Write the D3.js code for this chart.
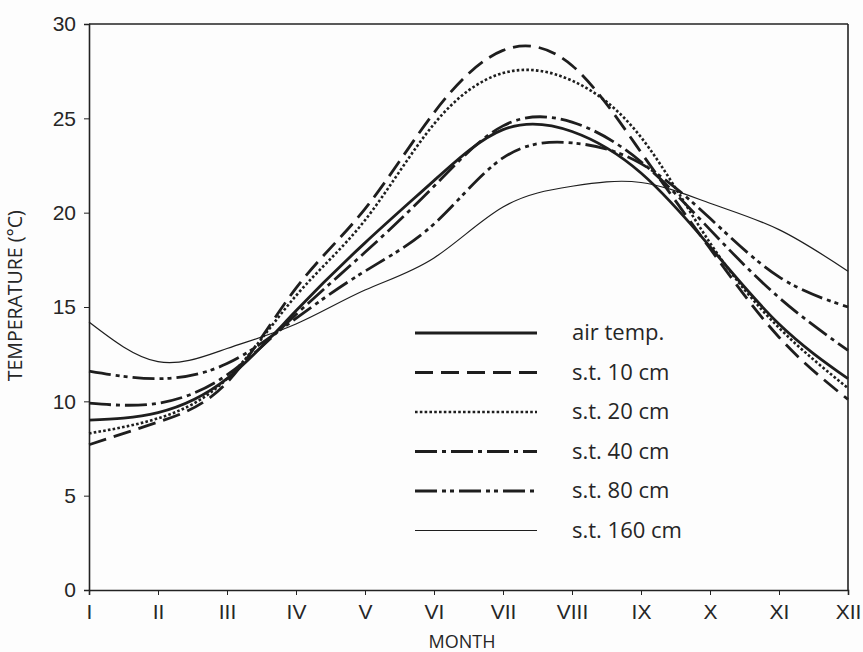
<!DOCTYPE html>
<html>
<head>
<meta charset="utf-8">
<script src="https://cdn.jsdelivr.net/npm/d3@7"></script>
<style>
  body { margin: 0; background: #fdfdfd; }
  svg { font-family: "Open Sans", "DejaVu Sans", sans-serif; }
  .tick text { font-size: 21px; fill: #262626; }
  .tick line, .domain { stroke: #222; }
</style>
</head>
<body>
<script>
//Data (°C at the start of each month)
var months = ["I", "II", "III", "IV", "V", "VI", "VII", "VIII", "IX", "X", "XI", "XII"];
var yTicks = [0, 5, 10, 15, 20, 25, 30];

var airTemp = [9.0, 9.4, 11.2, 14.8, 18.4, 21.7, 24.4, 24.3, 22.1, 18.2, 14.1, 11.2];
var st10 = [7.7, 8.9, 11.0, 16.0, 20.2, 25.3, 28.6, 27.8, 23.2, 18.1, 13.4, 10.1];
var st20 = [8.3, 9.1, 11.2, 15.6, 19.6, 24.7, 27.4, 27.0, 24.0, 18.4, 13.9, 10.7];
var st40 = [9.9, 9.9, 11.4, 14.6, 17.9, 21.4, 24.6, 24.8, 22.7, 19.1, 15.5, 12.7];
var st80 = [11.6, 11.2, 12.0, 14.4, 16.9, 19.4, 22.9, 23.7, 22.6, 19.7, 16.6, 15.0];
var st160 = [14.2, 12.1, 12.8, 14.1, 15.9, 17.6, 20.3, 21.4, 21.6, 20.5, 19.1, 16.9];

var seriesNames = ["air temp.", "s.t. 10 cm", "s.t. 20 cm", "s.t. 40 cm", "s.t. 80 cm", "s.t. 160 cm"];
var seriesValues = [airTemp, st10, st20, st40, st80, st160];

//Line styles
var dashes = ["none", "18,8", "2.6,2.2", "22,5,4,5", "22,5,4,4,4,5", "none"];
var widths = [2.8, 2.8, 2.6, 2.8, 2.8, 1.2];

//Define Margin
var margin = {left: 89, right: 15, top: 24, bottom: 62},
    width = 863 - margin.left - margin.right,
    height = 652 - margin.top - margin.bottom;

var svg = d3.select("body")
    .append("svg")
    .attr("width", 863)
    .attr("height", 652)
    .append("g")
    .attr("transform", "translate(" + margin.left + "," + margin.top + ")");

//Define Scales
var xScale = d3.scalePoint().domain(months).range([0, width]);
var yScale = d3.scaleLinear().domain([0, 30]).range([height, 0]);

//Frame
svg.append("line")
    .attr("x1", 0).attr("x2", width)
    .attr("y1", 0).attr("y2", 0)
    .attr("stroke", "#222").attr("stroke-width", 1.6);
svg.append("line")
    .attr("x1", width).attr("x2", width)
    .attr("y1", 0).attr("y2", height)
    .attr("stroke", "#222").attr("stroke-width", 1.6);

//X-axis
var gX = svg.append("g")
    .attr("transform", "translate(0," + height + ")")
    .call(d3.axisBottom(xScale).tickSize(5).tickPadding(9));
gX.select(".domain").attr("stroke-width", 1.6);

//Y-axis
var gY = svg.append("g")
    .call(d3.axisLeft(yScale).tickValues(yTicks).tickSize(5).tickPadding(8));
gY.select(".domain").attr("stroke-width", 1.6);

//Axis labels
svg.append("text")
    .attr("x", xScale("VI") + 28)
    .attr("y", height + 58)
    .style("text-anchor", "middle")
    .attr("font-size", "18px")
    .attr("fill", "#262626")
    .text("MONTH");

svg.append("text")
    .attr("transform", "rotate(-90)")
    .attr("x", -(yScale(15.6)))
    .attr("y", -67)
    .style("text-anchor", "middle")
    .attr("font-size", "19.5px")
    .attr("fill", "#262626")
    .text("TEMPERATURE (°C)");

//Draw lines
var line = d3.line()
    .x(function(d, i) { return xScale(months[i]); })
    .y(function(d) { return yScale(d); })
    .curve(d3.curveNatural);

svg.selectAll(".series")
    .data(seriesValues)
    .enter().append("path")
    .attr("class", "series")
    .attr("d", line)
    .attr("fill", "none")
    .attr("stroke", "#1e1e1e")
    .attr("stroke-width", function(d, i) { return widths[i]; })
    .attr("stroke-dasharray", function(d, i) { return dashes[i]; });

//Legend
var legend = svg.selectAll(".legend")
    .data(seriesNames)
    .enter().append("g")
    .attr("class", "legend")
    .attr("transform", function(d, i) { return "translate(326," + (309 + i * 39.5) + ")"; });

legend.append("line")
    .attr("x1", 0).attr("x2", 122)
    .attr("y1", 0).attr("y2", 0)
    .attr("stroke", "#1e1e1e")
    .attr("stroke-width", function(d, i) { return widths[i]; })
    .attr("stroke-dasharray", function(d, i) { return dashes[i]; });

legend.append("text")
    .attr("x", 157)
    .attr("y", 7)
    .attr("font-size", "22px")
    .attr("fill", "#262626")
    .text(function(d) { return d; });
</script>
</body>
</html>
